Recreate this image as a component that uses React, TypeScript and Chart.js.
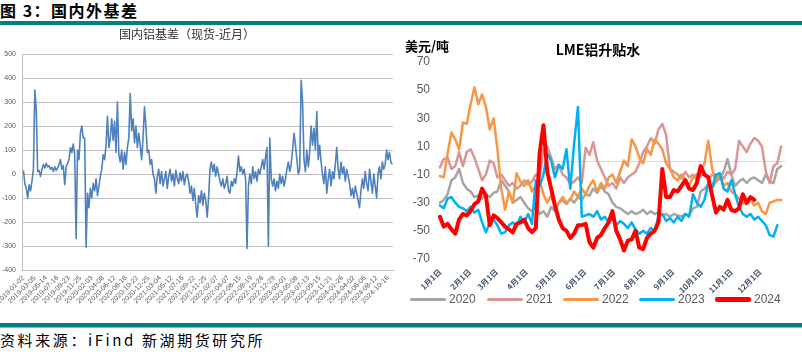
import React, { useEffect, useRef } from 'react';
import { Chart, registerables } from 'chart.js';

Chart.register(...registerables);

// ---------- Left chart: 国内铝基差（现货-近月） ----------
const basisDates = [
  '2019-01-02', '2019-03-05', '2019-05-14', '2019-07-16', '2019-09-23', '2019-11-25',
  '2020-02-03', '2020-04-08', '2020-06-12', '2020-08-18', '2020-10-22', '2020-12-25',
  '2021-03-04', '2021-05-12', '2021-07-16', '2021-09-22', '2021-11-25', '2022-02-07',
  '2022-04-07', '2022-06-15', '2022-08-19', '2022-10-26', '2022-12-29', '2023-03-01',
  '2023-05-08', '2023-07-13', '2023-09-15', '2023-11-21', '2024-01-26', '2024-04-02',
  '2024-06-06', '2024-08-12', '2024-10-16',
];
const basisPointsPerLabel = 8;
const basisYTicks = { min: -400, max: 500, step: 100 };

const basisValues = [
  15, -40, -60, -100, -45, -70, -30, 20, 350, 270, 10,
  15, -10, 20,
  40, 25, 45, 30,
  35, 20, 28, 10, 30, 15, 25, 40, 60, 20, 35, -45, 30, 45,
  60, 110, 90, 125, 80, -270,
  100, 60, 170, 200, 150, 150,
  -305,
  -80, -140, -60, -100, -40, -70, -20, -90, -50, -10,
  20, 80, 60, 120, 240,
  110, 150, 230, 140, 220, 90, 300, 80,
  50, 100, 20, 90, 40, 110, 150, 335, 180,
  230, 130, 200, 110, 170, 120, 60, 150, 280, 200, 90,
  100, 40, 60, 0,
  -20, -80, -10, 20, -40, 10, -50,
  -20, 10, -60, -10, 20, -30, 0, -50, 15, -20, -40, 5, -30, 10, -45, -10, 0,
  -30, -80, -50, -110, -60, -130, -180, -90, -120, -70, -130, -80, -110, -180, -100, 20,
  50, 10, 40, -10, 30, 0,
  -30, -50, -20, -60, -40, -10, -70, -80, -30, -50, -20, -40, 10,
  75,
  10, 30, 0, 20, -20,
  -310,
  -50, 0, -40, 30, -20, 10, -30, 20, 0,
  30, 60, 20, 70,
  110, -300, 150, -20,
  -50, -20, -70, -30, -60, 0, -40, -10, -50, -20,
  20, 50, 10, 40,
  100, 170, 120,
  60, 0,
  20, 390, 300,
  60, 10, 100, 30, 90,
  200, 120, 190,
  100, 260,
  60, 120, 50,
  0, -40, 30, -80, -20, 20, -50, 10,
  -20, 40, 110, 20,
  -20, 50, 0, 30, -30, 20, -10,
  -40, -90, -60, -100, -50, -80, -110, -140, -70,
  -20, -60, 10, -40, -70, 20, -30, -80, 0, -50,
  -100,
  0, 30, -20, 50, 20, 40,
  100, 60, 90, 50, 40,
];

// ---------- Right chart: LME铝升贴水 ----------
const monthDays = [0, 31, 59, 90, 120, 151, 181, 212, 243, 273, 304, 334];
const monthLabels = ['1月1日', '2月1日', '3月1日', '4月1日', '5月1日', '6月1日', '7月1日', '8月1日', '9月1日', '10月1日', '11月1日', '12月1日'];
const lmeYTicks = { min: -70, max: 70, step: 20 };

const sampleDays = [
  0, 4, 8, 12, 16, 20, 24, 28, 32, 36, 40, 44, 48, 52, 56, 60, 64, 68, 72, 76,
  80, 84, 88, 92, 96, 100, 104, 108, 112, 116, 120, 124, 128, 132, 136, 140, 144, 148, 152, 156,
  160, 164, 168, 172, 176, 180, 184, 188, 192, 196, 200, 204, 208, 212, 216, 220, 224, 228, 232, 236,
  240, 244, 248, 252, 256, 260, 264, 268, 272, 276, 280, 284, 288, 292, 296, 300, 304, 308, 312, 316,
  320, 324, 328, 332, 336, 340, 344, 348, 352, 356,
];

const lme2020 = [
  -30, -28, -24, -14, -12, -6, -16, -20, -22, -26,
  -25, -27, -24, -26, -23, -22, -14, -18, -22, -30,
  -28, -26, -30, -34, -36, -33, -38, -36, -40, -33,
  -36, -30, -28, -31, -27, -30, -26, -28, -24, -25,
  -20, -23, -18, -22, -24, -30, -33, -34, -36, -38,
  -36, -38, -37, -35, -38, -36, -38, -37, -39, -38,
  -40, -38, -39, -40, -38, -39, -34, -33, -22, -20,
  -17, -20, -15, -13, -8, 1, -10, -18, -15, -13,
  -16, -13, -12, -14, -16, -10, -15, -16, -6, -4,
];
const lme2021 = [
  -5, 1, 2, -6, -4, 6, -4, 6, 8, 2,
  -6, -14, -10, 0, -2, -12, -10, -14, -18, -16,
  -20, -18, -14, -17, -15, -10, -12, 8, 10, 2,
  -6, -3, -10, -12, -17, -15, -12, -16, 9, 4,
  13, 0, -6, -12, -18, -16, -20, -12, -16, -12,
  -10, -8, -2, 6, 10, 16, 12, 22, 26, 18,
  -6, -8, -10, -13, -8, -12, -10, -14, -11, -9,
  -13, -10, -12, -9, -13, -8, -10, -6, 14, 10,
  6, 12, 16, 14, 10, -8, -16, -4, -2, 10,
];
const lme2022 = [
  -11, -12, 5, 20, 15, 8, 27, 26, 40, 52,
  40, 47, 38, 22, 30, 8, -20, -35, -22, -30,
  -9, -15, -18, -14, -22, -18, -14, -24, -30, -25,
  -33, -30, -26, -30, -28, -22, -26, -20, -24, -18,
  -14, -22, -16, -20, -12, -10, -16, -8, 0, -4,
  15, 10, 2, -2, 8, 4, 15, 12, 8, -2,
  -6, -12, -14, -10, -14, -18, -12, -10, -8, -2,
  14, -6, -14, -10, -18, -16, -22, -24, -27, -30,
  -31, -28, -32, -30, -36, -38, -30, -29, -28, -28,
];
const lme2023 = [
  -32, -34, -27, -26, -30, -33, -34, -36, -33, -37,
  -35, -44, -51, -44, -42, -46, -52, -51, -46, -44,
  -47, -40, -44, -38, -45, -14, -18, -10, 5, 0,
  -12, -3, -6, 8, -20, 12, 38, -40, -39, -38,
  -40, -36, -42, -40, -44, -41, -46, -43, -45, -48,
  -44, -49, -52, -50, -52, -48, -50, -40, -38, -43,
  -41, -44, -40, -43, -38, -40, -24, -30, -33, -28,
  -16, -19, -10, -9, -20, -22, -14, -24, -33, -38,
  -40, -38, -42, -40, -43, -46, -53, -54, -46, null,
];
const lme2024 = [
  -40, -47, -45, -49, -52, -42, -38, -39, -36, -31,
  -29, -20, -25, -46, -39, -41, -44, -47, -49, -51,
  -45, -44, -42, -48, -51, -48, 5, 25, -8, -20,
  -32, -42, -48, -50, -55, -52, -46, -46, -45, -58,
  -62, -55, -53, -48, -44, -36, -50, -56, -64, -57,
  -56, -50, -62, -63, -55, -52, -50, -44, -6, -26,
  -26, -21, -22, -18, -14, -20, -21, -16, -4, -10,
  -12, -25, -37, -33, -35, -28, -35, -36, -34, -24,
  -30, -26, -28, null, null, null, null, null, null, null,
];

const seriesNames = ['2020', '2021', '2022', '2023', '2024'];
const seriesValues = [lme2020, lme2021, lme2022, lme2023, lme2024];
const seriesColors = ['#A5A5A5', '#DA9694', '#F79646', '#00B0F0', '#FF0000'];
const seriesWidths = [2.5, 2.5, 2.5, 2.5, 4];
const legendX = [410, 487, 563, 639, 715];

const zeroLinePlugin = {
  id: 'zeroLine',
  beforeDatasetsDraw(chart: any) {
    const { ctx, chartArea, scales } = chart;
    const y = Math.round(scales.y.getPixelForValue(0)) + 0.5;
    ctx.save();
    ctx.strokeStyle = '#D9D9D9';
    ctx.lineWidth = 1;
    ctx.beginPath();
    ctx.moveTo(chartArea.left, y);
    ctx.lineTo(chartArea.right, y);
    ctx.stroke();
    ctx.restore();
  },
};

function BasisChart() {
  const ref = useRef<HTMLCanvasElement>(null);
  useEffect(() => {
    const lastIdx = (basisDates.length - 1) * basisPointsPerLabel;
    const chart = new Chart(ref.current as HTMLCanvasElement, {
      type: 'line',
      data: {
        datasets: [
          {
            data: basisValues.map((v, i) => ({ x: i, y: v })),
            borderColor: '#4F81BD',
            borderWidth: 1.6,
            pointRadius: 0,
            tension: 0,
            borderJoinStyle: 'round',
          },
        ],
      },
      options: {
        animation: false,
        responsive: false,
        maintainAspectRatio: false,
        layout: { padding: { left: 0, right: 5, top: 30, bottom: 0 } },
        plugins: { legend: { display: false }, tooltip: { enabled: false }, title: { display: false } },
        scales: {
          x: {
            type: 'linear',
            min: -1,
            max: lastIdx + 3.5,
            grid: { display: false, drawTicks: false },
            border: { display: true, color: '#BFBFBF' },
            afterBuildTicks: (s: any) => {
              s.ticks = basisDates.map((_, i) => ({ value: i * basisPointsPerLabel }));
            },
            afterFit: (s: any) => {
              s.height = 52;
              s.paddingLeft = 0;
              s.paddingRight = 0;
            },
            ticks: {
              autoSkip: false,
              minRotation: 45,
              maxRotation: 45,
              padding: 4,
              color: '#595959',
              font: { size: 7, family: 'Liberation Sans' },
              callback: (_v: any, i: number) => basisDates[i] ?? '',
            },
          },
          y: {
            min: basisYTicks.min,
            max: basisYTicks.max,
            ticks: { stepSize: basisYTicks.step, padding: 6, color: '#595959', font: { size: 7, family: 'Liberation Sans' } },
            grid: { color: '#BFBFBF', drawTicks: false },
            border: { display: true, color: '#BFBFBF' },
            afterFit: (s: any) => {
              s.width = 22;
              s.paddingTop = 0;
              s.paddingBottom = 0;
            },
          },
        },
      } as any,
    });
    return () => chart.destroy();
  }, []);
  return <canvas ref={ref} width={398} height={298} style={{ position: 'absolute', left: 0, top: 24 }} />;
}

function LmeChart() {
  const ref = useRef<HTMLCanvasElement>(null);
  useEffect(() => {
    const chart = new Chart(ref.current as HTMLCanvasElement, {
      type: 'line',
      data: {
        datasets: seriesNames.map((name, k) => ({
          label: name,
          data: sampleDays.map((d, i) => ({ x: d, y: seriesValues[k][i] })),
          borderColor: seriesColors[k],
          borderWidth: seriesWidths[k],
          pointRadius: 0,
          tension: 0,
          spanGaps: false,
          borderJoinStyle: 'round',
          borderCapStyle: 'round',
          order: seriesNames.length - k,
        })),
      },
      options: {
        animation: false,
        responsive: false,
        maintainAspectRatio: false,
        layout: { padding: { left: 0, right: 17, top: 38, bottom: 0 } },
        plugins: { legend: { display: false }, tooltip: { enabled: false }, title: { display: false } },
        scales: {
          x: {
            type: 'linear',
            min: -2,
            max: 360,
            grid: { display: false, drawTicks: false },
            border: { display: false },
            afterBuildTicks: (s: any) => {
              s.ticks = monthDays.map((d) => ({ value: d }));
            },
            afterFit: (s: any) => {
              s.height = 63;
              s.paddingLeft = 0;
              s.paddingRight = 0;
            },
            ticks: {
              autoSkip: false,
              minRotation: 45,
              maxRotation: 45,
              padding: 8,
              color: '#44546A',
              font: { size: 8, weight: 'bold', family: 'Noto Sans CJK SC' },
              callback: (_v: any, i: number) => monthLabels[i] ?? '',
            },
          },
          y: {
            min: lmeYTicks.min,
            max: lmeYTicks.max,
            ticks: { stepSize: lmeYTicks.step, padding: 8, color: '#595959', font: { size: 12, family: 'Liberation Sans' } },
            grid: { display: false, drawTicks: false },
            border: { display: false },
            afterFit: (s: any) => {
              s.width = 42;
              s.paddingTop = 0;
              s.paddingBottom = 0;
            },
          },
        },
      } as any,
      plugins: [zeroLinePlugin],
    });
    return () => chart.destroy();
  }, []);
  return <canvas ref={ref} width={406} height={298} style={{ position: 'absolute', left: 396, top: 24 }} />;
}

export default function App() {
  const cjk = '"Noto Sans CJK SC", "Noto Sans", sans-serif';
  return (
    <div
      style={{
        position: 'absolute',
        left: 0,
        top: 0,
        width: 802,
        height: 354,
        background: '#ffffff',
        overflow: 'hidden',
        fontFamily: cjk,
      }}
    >
      <div
        style={{
          position: 'absolute',
          left: 0,
          top: 2,
          fontSize: 16,
          lineHeight: '16px',
          fontWeight: 700,
          letterSpacing: 1.5,
          color: '#000',
          whiteSpace: 'nowrap',
        }}
      >
        图 3：国内外基差
      </div>
      <div style={{ position: 'absolute', left: 0, top: 21, width: 802, height: 4, background: '#008080' }} />

      <BasisChart />
      <div
        style={{
          position: 'absolute',
          left: 87,
          top: 28,
          width: 200,
          textAlign: 'center',
          fontSize: 12,
          lineHeight: '12px',
          color: '#333333',
          whiteSpace: 'nowrap',
        }}
      >
        国内铝基差（现货-近月）
      </div>

      <LmeChart />
      <div
        style={{
          position: 'absolute',
          left: 405,
          top: 39,
          fontSize: 13,
          lineHeight: '13px',
          fontWeight: 700,
          color: '#000',
          whiteSpace: 'nowrap',
        }}
      >
        美元/吨
      </div>
      <div
        style={{
          position: 'absolute',
          left: 498,
          top: 42,
          width: 200,
          textAlign: 'center',
          fontSize: 14,
          lineHeight: '14px',
          fontWeight: 700,
          color: '#000',
          whiteSpace: 'nowrap',
        }}
      >
        LME铝升贴水
      </div>

      {seriesNames.map((name, k) => (
        <div
          key={name}
          style={{
            position: 'absolute',
            left: legendX[k],
            top: 292,
            height: 15,
            display: 'flex',
            alignItems: 'center',
          }}
        >
          <span
            style={{
              display: 'inline-block',
              width: 36,
              height: k === 4 ? 5 : 3,
              borderRadius: 2,
              background: seriesColors[k],
            }}
          />
          <span
            style={{
              marginLeft: 3,
              fontFamily: '"Liberation Sans", sans-serif',
              fontSize: 12,
              lineHeight: '15px',
              color: '#595959',
            }}
          >
            {name}
          </span>
        </div>
      ))}

      <div style={{ position: 'absolute', left: 0, top: 323, width: 802, height: 4, background: '#008080' }} />
      <div style={{ position: 'absolute', left: 0, top: 327, width: 802, height: 1, background: '#80C0C0' }} />
      <div
        style={{
          position: 'absolute',
          left: 0,
          top: 332,
          fontSize: 15,
          lineHeight: '15px',
          letterSpacing: 2.6,
          color: '#000',
          whiteSpace: 'nowrap',
        }}
      >
        资料来源：iFind 新湖期货研究所
      </div>
    </div>
  );
}
